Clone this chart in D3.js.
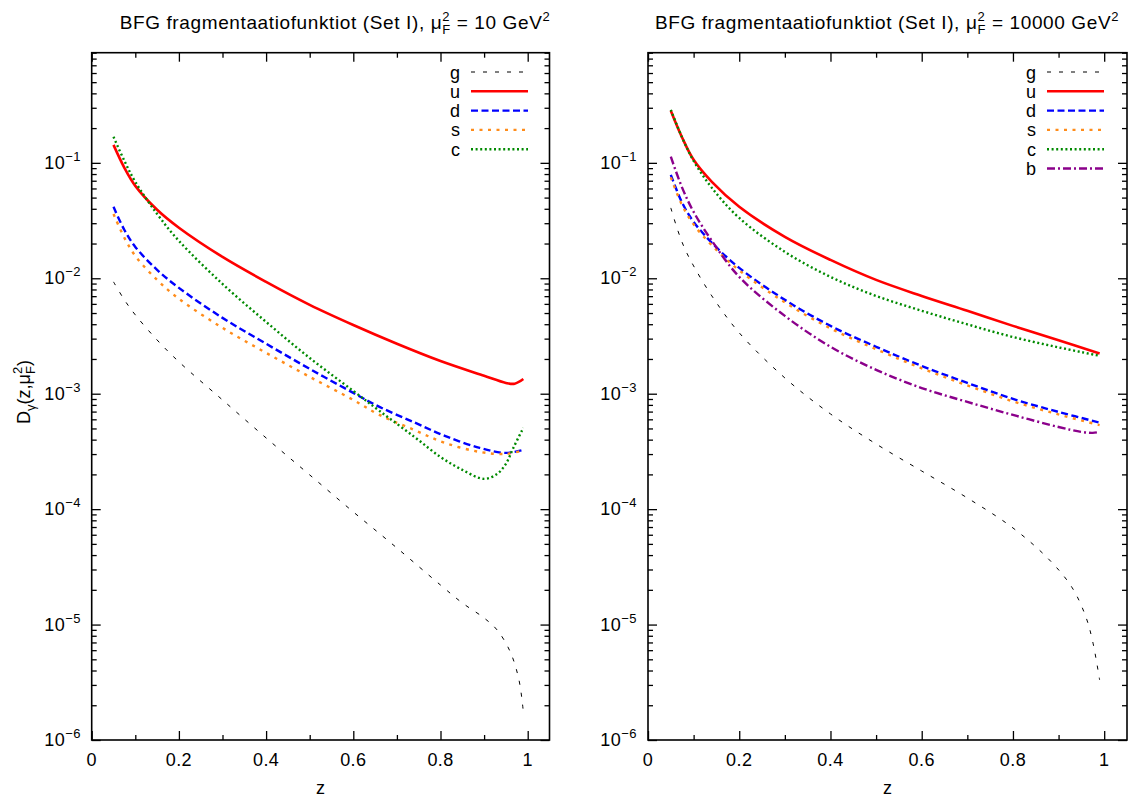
<!DOCTYPE html>
<html><head><meta charset="utf-8">
<script src="https://cdn.jsdelivr.net/npm/d3@7"></script>
<style>
body{margin:0;background:#fff;}
svg text{font-family:"Liberation Sans",Arial,sans-serif;fill:#000;}
</style></head><body>
<svg id="chart" width="1131" height="802"></svg>
<script>
// ---------------- DATA ----------------
// Left panel: mu_F^2 = 10 GeV^2
const L_g_z = [0.05,0.075,0.1,0.15,0.2,0.3,0.4,0.5,0.6,0.7,0.8,0.85,0.9,0.93,0.96,0.98,0.99];
const L_g_v = [0.00931,0.00650,0.00482,0.00292,0.00189,0.000883,0.000414,0.000198,0.0000946,0.0000461,0.0000220,0.0000154,0.0000114,0.00000897,0.00000580,0.00000331,0.00000175];
const L_u_z = [0.05,0.075,0.1,0.15,0.2,0.3,0.4,0.5,0.6,0.7,0.8,0.9,0.95,0.97,0.99];
const L_u_v = [0.1432,0.0906,0.0632,0.0392,0.0274,0.01531,0.00931,0.00589,0.00394,0.00271,0.00192,0.00143,0.00124,0.00122,0.00134];
const L_d_z = [0.05,0.075,0.1,0.15,0.2,0.3,0.4,0.5,0.6,0.66,0.74,0.81,0.89,0.95,0.99];
const L_d_v = [0.0416,0.0262,0.0187,0.01183,0.00826,0.00454,0.00271,0.00164,0.001016,0.000769,0.000564,0.000431,0.000339,0.000307,0.000326];
const L_s_z = [0.05,0.075,0.1,0.15,0.2,0.3,0.4,0.5,0.6,0.66,0.74,0.81,0.89,0.95,0.99];
const L_s_v = [0.0361,0.0224,0.01563,0.00968,0.00664,0.00372,0.00226,0.00140,0.000883,0.000655,0.000485,0.000375,0.000313,0.000301,0.000324];
const L_c_z = [0.05,0.075,0.1,0.15,0.2,0.3,0.4,0.5,0.6,0.66,0.74,0.8,0.85,0.9,0.93,0.95,0.967,0.99];
const L_c_v = [0.168,0.1040,0.0684,0.0361,0.0211,0.00893,0.00419,0.00204,0.001057,0.000710,0.000423,0.000283,0.000219,0.000183,0.000202,0.000247,0.000339,0.000506];

// Right panel: mu_F^2 = 10000 GeV^2
const R_g_z = [0.05,0.065,0.08,0.1,0.14,0.2,0.3,0.4,0.5,0.6,0.7,0.8,0.88,0.93,0.96,0.975,0.99];
const R_g_v = [0.0407,0.0262,0.0183,0.01279,0.00703,0.00337,0.00137,0.000668,0.000367,0.000214,0.000125,0.0000687,0.0000363,0.0000208,0.0000116,0.00000706,0.00000331];
const R_u_z = [0.05,0.075,0.1,0.14,0.2,0.3,0.4,0.5,0.6,0.7,0.8,0.9,0.99];
const R_u_v = [0.283,0.165,0.1062,0.0684,0.0416,0.02286,0.01442,0.00968,0.00703,0.00523,0.00387,0.00290,0.00223];
const R_d_z = [0.05,0.075,0.1,0.14,0.2,0.3,0.4,0.5,0.6,0.7,0.8,0.9,0.99];
const R_d_v = [0.0787,0.0450,0.0308,0.0203,0.01230,0.00650,0.00387,0.00255,0.00174,0.00124,0.000902,0.000695,0.000562];
const R_s_z = [0.05,0.075,0.1,0.14,0.2,0.3,0.4,0.5,0.6,0.7,0.8,0.9,0.99];
const R_s_v = [0.0749,0.0428,0.0293,0.0193,0.0117,0.00618,0.00368,0.00243,0.00166,0.00118,0.000858,0.000661,0.000535];
const R_c_z = [0.05,0.075,0.1,0.14,0.2,0.3,0.4,0.5,0.6,0.7,0.8,0.9,0.99];
const R_c_v = [0.288,0.165,0.1040,0.0607,0.0333,0.01694,0.01028,0.00703,0.00523,0.00399,0.00310,0.00252,0.00213];
const R_b_z = [0.05,0.075,0.1,0.14,0.2,0.3,0.4,0.5,0.6,0.7,0.8,0.9,0.95,0.975,0.99];
const R_b_v = [0.113,0.0607,0.0376,0.0211,0.01028,0.00472,0.00255,0.00161,0.00112,0.000849,0.000655,0.000515,0.000467,0.000458,0.000467];

const xTickValues = [0,0.2,0.4,0.6,0.8,1];
const xTickLabels = ["0","0.2","0.4","0.6","0.8","1"];
const xMinorValues = [0.1,0.3,0.5,0.7,0.9];
const yDecades = [1e-6,1e-5,1e-4,1e-3,1e-2,1e-1];
const yDecadeExps = ["−6","−5","−4","−3","−2","−1"];
const leftScale = "10";
const rightScale = "10000";

// ---------------- STYLES ----------------
const STY = {
  g:{color:"#000000", width:1, dash:"4,8"},
  u:{color:"#ff0000", width:2.6, dash:null},
  d:{color:"#0000ff", width:2.4, dash:"7,3.5"},
  s:{color:"#ff8c1a", width:2.4, dash:"3,5.5"},
  c:{color:"#008a00", width:2.4, dash:"2,2.6"},
  b:{color:"#8b008b", width:2.4, dash:"8,3,2,3"}
};

const svg = d3.select("#chart");
const yBot = 740, yTop = 52.7;
const FONT = 18;

function addTitle(cx, baseline, scaleText){
  const t = svg.append("text").attr("x",cx).attr("y",baseline)
    .attr("text-anchor","middle").style("font-size","19px").style("letter-spacing","0.62px");
  t.append("tspan").text("BFG fragmentaatiofunktiot (Set I), μ");
  t.append("tspan").attr("dy",-8).style("font-size","13px").text("2");
  t.append("tspan").attr("dx",-7.9).attr("dy",13).style("font-size","13px").text("F");
  t.append("tspan").attr("dy",-5).text(" = " + scaleText + " GeV");
  t.append("tspan").attr("dy",-8).style("font-size","13px").text("2");
}

const panels = [
  {x0:91.7, x1:549.5, title:leftScale, titleCx:335,
   series:[["g",L_g_z,L_g_v],["u",L_u_z,L_u_v],["d",L_d_z,L_d_v],["s",L_s_z,L_s_v],["c",L_c_z,L_c_v]],
   legLabelX:460, legX0:471, legX1:528, yLabRight:81},
  {x0:648, x1:1127, title:rightScale, titleCx:887,
   series:[["g",R_g_z,R_g_v],["u",R_u_z,R_u_v],["d",R_d_z,R_d_v],["s",R_s_z,R_s_v],["c",R_c_z,R_c_v],["b",R_b_z,R_b_v]],
   legLabelX:1036, legX0:1047, legX1:1104, yLabRight:637}
];

panels.forEach(p => {
  const x = d3.scaleLinear().domain([0,1.05]).range([p.x0,p.x1]);
  const y = d3.scaleLog().domain([1e-6,0.9]).range([yBot,yTop]);
  const g = svg.append("g");

  // curves
  const line = d3.line().x(d=>x(d[0])).y(d=>y(d[1])).curve(d3.curveCatmullRom.alpha(0.5));
  p.series.forEach(([k,zs,vs]) => {
    const pts = zs.map((z,i)=>[z,vs[i]]);
    const st = STY[k];
    g.append("path").datum(pts).attr("d",line).attr("fill","none")
      .attr("stroke",st.color).attr("stroke-width",st.width)
      .attr("stroke-dasharray",st.dash).attr("stroke-linejoin","round");
  });

  // axes (ticks inward, mirrored)
  const mk = (ax) => ax.tickFormat("").tickSizeOuter(0);
  g.append("g").attr("transform",`translate(0,${yBot})`)
    .call(mk(d3.axisBottom(x).tickValues(xTickValues).tickSizeInner(-9)));
  g.append("g").attr("transform",`translate(0,${yBot})`)
    .call(mk(d3.axisBottom(x).tickValues(xMinorValues).tickSizeInner(-5)));
  g.append("g").attr("transform",`translate(0,${yTop})`)
    .call(mk(d3.axisTop(x).tickValues(xTickValues).tickSizeInner(-9)));
  g.append("g").attr("transform",`translate(0,${yTop})`)
    .call(mk(d3.axisTop(x).tickValues(xMinorValues).tickSizeInner(-5)));
  const minorY = [];
  yDecades.forEach(dv => { for(let m=2;m<=9;m++){ const v=dv*m; if(v<=0.9001) minorY.push(v);} });
  g.append("g").attr("transform",`translate(${p.x0},0)`)
    .call(mk(d3.axisLeft(y).tickValues(yDecades).tickSizeInner(-9)));
  g.append("g").attr("transform",`translate(${p.x0},0)`)
    .call(mk(d3.axisLeft(y).tickValues(minorY).tickSizeInner(-5)));
  g.append("g").attr("transform",`translate(${p.x1},0)`)
    .call(mk(d3.axisRight(y).tickValues(yDecades).tickSizeInner(-9)));
  g.append("g").attr("transform",`translate(${p.x1},0)`)
    .call(mk(d3.axisRight(y).tickValues(minorY).tickSizeInner(-5)));
  g.selectAll(".domain").remove();
  g.selectAll(".tick line").attr("stroke","#000").attr("stroke-width",1.3);

  // frame
  g.append("rect").attr("x",p.x0).attr("y",yTop).attr("width",p.x1-p.x0).attr("height",yBot-yTop)
    .attr("fill","none").attr("stroke","#000").attr("stroke-width",1.6);

  // x tick labels
  xTickValues.forEach((v,i)=>{
    g.append("text").attr("x",x(v)).attr("y",766).attr("text-anchor","middle")
      .style("font-size",FONT+"px").style("letter-spacing","0.4px").text(xTickLabels[i]);
  });
  // y tick labels
  yDecades.forEach((v,i)=>{
    const t = g.append("text").attr("x",p.yLabRight).attr("y",y(v)+6).attr("text-anchor","end")
      .style("font-size",FONT+"px").style("letter-spacing","0.5px");
    t.append("tspan").text("10");
    t.append("tspan").attr("dy",-8).style("font-size","13px").text(yDecadeExps[i]);
  });
  // x label
  g.append("text").attr("x",(p.x0+p.x1)/2).attr("y",794).attr("text-anchor","middle")
    .style("font-size",FONT+"px").text("z");

  // title
  addTitle(p.titleCx, 28.5, p.title);

  // legend
  p.series.forEach(([k],i)=>{
    const ly = 72 + i*19.3;
    const st = STY[k];
    g.append("text").attr("x",p.legLabelX).attr("y",ly+6.5).attr("text-anchor","end")
      .style("font-size",FONT+"px").text(k);
    g.append("line").attr("x1",p.legX0).attr("x2",p.legX1).attr("y1",ly).attr("y2",ly)
      .attr("stroke",st.color).attr("stroke-width",st.width).attr("stroke-dasharray",st.dash);
  });
});

// y axis label (left panel)
const yl = svg.append("text").attr("transform","translate(30,392) rotate(-90)")
  .attr("text-anchor","middle").style("font-size",FONT+"px");
yl.append("tspan").text("D");
yl.append("tspan").attr("dy",5).style("font-size","13px").text("γ");
yl.append("tspan").attr("dy",-5).text("(z,μ");
yl.append("tspan").attr("dy",-8).style("font-size","13px").text("2");
yl.append("tspan").attr("dx",-7.2).attr("dy",13).style("font-size","13px").text("F");
yl.append("tspan").attr("dy",-5).text(")");
</script>
</body></html>
